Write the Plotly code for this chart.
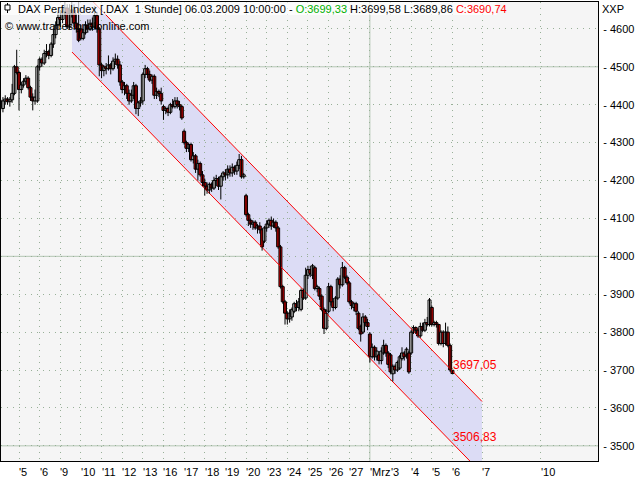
import plotly.graph_objects as go

# ---------------- data ----------------
# trading-day tick labels (x positions are bar indexes)
tick_text = ["5", "6", "9", "10", "11", "12", "13", "16", "17", "18", "19", "20",
             "23", "24", "25", "26", "27", "Mrz", "3", "4", "5", "6", "7", "10"]
tick_bar = [8, 17, 26, 35, 44, 53, 62, 71, 80, 89, 98, 107,
            116, 125, 134, 143, 152, 161, 170, 179, 188, 197, 210, 235.6]
month_break_bar = [161]

# hourly OHLC, 04.02.2009 (partial) ... 06.03.2009 10:00
open_ = [
    4395, 4390, 4410, 4415, 4408, 4413, 4430, 4500,                     # 04.02
    4485, 4440, 4452, 4462, 4470, 4445, 4420, 4410, 4410,               # 05.02
    4500, 4520, 4510, 4535, 4540, 4530, 4560, 4585, 4610,               # 06.02
    4630, 4625, 4645, 4655, 4605, 4640, 4650, 4615, 4600,               # 09.02
    4600, 4575, 4590, 4610, 4600, 4615, 4605, 4635, 4600,               # 10.02
    4505, 4490, 4500, 4495, 4505, 4495, 4515, 4520, 4505,               # 11.02
    4460, 4440, 4450, 4430, 4410, 4425, 4450, 4390, 4405,               # 12.02
    4410, 4480, 4495, 4480, 4465, 4475, 4425, 4435, 4430,               # 13.02
    4395, 4385, 4390, 4380, 4400, 4395, 4410, 4400, 4395,               # 16.02
    4330, 4300, 4285, 4295, 4255, 4265, 4230, 4245, 4215,               # 17.02
    4195, 4185, 4175, 4190, 4180, 4200, 4205, 4185, 4210,               # 18.02
    4220, 4215, 4230, 4220, 4235, 4225, 4240, 4255, 4210,               # 19.02
    4160, 4110, 4095, 4085, 4090, 4075, 4080, 4070, 4040,               # 20.02
    4075, 4085, 4095, 4080, 4090, 4075, 4025, 3920, 3880,               # 23.02
    3850, 3835, 3840, 3855, 3875, 3865, 3860, 3910, 3890,               # 24.02
    3950, 3965, 3950, 3970, 3915, 3915, 3895, 3860, 3810,               # 25.02
    3855, 3920, 3880, 3865, 3890, 3940, 3925, 3970, 3945,               # 26.02
    3930, 3880, 3865, 3875, 3850, 3815, 3800, 3840, 3825,               # 27.02
    3795, 3735, 3760, 3735, 3740, 3725, 3745, 3765, 3745,               # 02.03
    3740, 3690, 3710, 3700, 3705, 3730, 3745, 3740, 3745,               # 03.03
    3745, 3800, 3812, 3805, 3790, 3815, 3805, 3825, 3820,               # 04.03
    3865, 3820, 3825, 3820, 3770, 3800, 3770, 3800, 3765,               # 05.03
    3699.33,                                                            # 06.03
]
high_ = [
    4415, 4420, 4425, 4420, 4420, 4455, 4505, 4545,
    4490, 4460, 4470, 4478, 4475, 4450, 4430, 4440, 4505,
    4525, 4525, 4545, 4560, 4545, 4565, 4600, 4620, 4645,
    4650, 4660, 4690, 4665, 4665, 4685, 4665, 4640, 4690,
    4610, 4600, 4620, 4625, 4625, 4630, 4660, 4645, 4605,
    4510, 4505, 4510, 4530, 4510, 4525, 4535, 4530, 4515,
    4465, 4460, 4455, 4440, 4440, 4460, 4455, 4410, 4420,
    4485, 4505, 4500, 4490, 4480, 4480, 4445, 4440, 4445,
    4400, 4395, 4395, 4405, 4415, 4420, 4420, 4410, 4400,
    4335, 4305, 4300, 4300, 4275, 4270, 4255, 4250, 4225,
    4205, 4195, 4195, 4195, 4210, 4215, 4210, 4215, 4225,
    4230, 4240, 4240, 4245, 4240, 4250, 4270, 4265, 4220,
    4165, 4115, 4100, 4095, 4095, 4085, 4090, 4075, 4080,
    4095, 4100, 4105, 4100, 4095, 4080, 4030, 3925, 3885,
    3855, 3860, 3865, 3880, 3885, 3890, 3915, 3915, 3970,
    3975, 3975, 3980, 3975, 3925, 3920, 3900, 3865, 3860,
    3930, 3925, 3890, 3895, 3945, 3950, 3985, 3975, 3950,
    3935, 3885, 3880, 3880, 3855, 3820, 3850, 3845, 3835,
    3800, 3770, 3765, 3760, 3750, 3760, 3780, 3770, 3750,
    3745, 3715, 3715, 3725, 3740, 3760, 3750, 3760, 3750,
    3805, 3818, 3815, 3810, 3825, 3825, 3835, 3840, 3890,
    3870, 3830, 3830, 3822, 3805, 3805, 3825, 3815, 3770,
    3699.58,
]
low_ = [
    4385, 4380, 4400, 4400, 4395, 4405, 4425, 4480,
    4385, 4430, 4445, 4455, 4440, 4410, 4385, 4400, 4405,
    4490, 4500, 4505, 4525, 4520, 4525, 4550, 4575, 4600,
    4605, 4615, 4635, 4600, 4600, 4630, 4605, 4590, 4565,
    4570, 4570, 4585, 4590, 4595, 4595, 4600, 4590, 4475,
    4470, 4475, 4480, 4490, 4480, 4490, 4505, 4495, 4450,
    4430, 4425, 4415, 4400, 4405, 4415, 4375, 4370, 4395,
    4400, 4470, 4470, 4460, 4455, 4415, 4415, 4420, 4400,
    4360, 4375, 4370, 4375, 4390, 4390, 4390, 4385, 4360,
    4295, 4275, 4275, 4250, 4245, 4220, 4200, 4210, 4185,
    4160, 4165, 4165, 4170, 4175, 4185, 4175, 4150, 4200,
    4200, 4205, 4210, 4210, 4215, 4215, 4230, 4205, 4205,
    4105, 4080, 4075, 4070, 4070, 4060, 4060, 4015, 4035,
    4065, 4075, 4070, 4075, 4065, 4020, 3915, 3875, 3820,
    3820, 3825, 3830, 3850, 3855, 3855, 3855, 3885, 3885,
    3940, 3945, 3940, 3910, 3905, 3885, 3855, 3795, 3805,
    3850, 3870, 3855, 3860, 3885, 3915, 3920, 3940, 3925,
    3875, 3860, 3855, 3845, 3805, 3775, 3795, 3815, 3805,
    3720, 3730, 3725, 3725, 3715, 3715, 3740, 3735, 3705,
    3690, 3670, 3690, 3695, 3700, 3725, 3725, 3730, 3690,
    3740, 3795, 3795, 3785, 3785, 3800, 3800, 3815, 3815,
    3815, 3815, 3812, 3765, 3765, 3760, 3765, 3760, 3695,
    3689.86,
]
close_ = [
    4410, 4410, 4415, 4408, 4413, 4430, 4500, 4485,
    4440, 4452, 4462, 4470, 4445, 4420, 4410, 4420, 4500,
    4520, 4510, 4535, 4540, 4530, 4560, 4585, 4610, 4630,
    4625, 4645, 4655, 4605, 4640, 4650, 4615, 4600, 4570,
    4575, 4590, 4610, 4600, 4615, 4605, 4635, 4600, 4505,
    4490, 4500, 4495, 4505, 4495, 4515, 4520, 4505, 4460,
    4440, 4450, 4430, 4410, 4425, 4450, 4390, 4405, 4410,
    4480, 4495, 4480, 4465, 4475, 4425, 4435, 4430, 4410,
    4385, 4390, 4380, 4400, 4395, 4410, 4400, 4395, 4365,
    4300, 4285, 4295, 4255, 4265, 4230, 4245, 4215, 4195,
    4185, 4175, 4190, 4180, 4200, 4205, 4185, 4210, 4220,
    4215, 4230, 4220, 4235, 4225, 4240, 4255, 4210, 4215,
    4110, 4095, 4085, 4090, 4075, 4080, 4070, 4025, 4075,
    4085, 4095, 4080, 4090, 4075, 4025, 3920, 3880, 3850,
    3835, 3850, 3860, 3875, 3865, 3880, 3910, 3890, 3950,
    3965, 3955, 3975, 3915, 3920, 3895, 3860, 3810, 3850,
    3920, 3880, 3865, 3890, 3940, 3925, 3970, 3945, 3930,
    3880, 3870, 3875, 3855, 3810, 3795, 3840, 3825, 3815,
    3735, 3760, 3735, 3750, 3725, 3750, 3765, 3745, 3715,
    3695, 3710, 3700, 3720, 3735, 3745, 3735, 3755, 3695,
    3800, 3812, 3805, 3790, 3815, 3805, 3825, 3820, 3885,
    3820, 3825, 3820, 3770, 3800, 3770, 3800, 3765, 3700,
    3690.74,
]
bars = list(range(len(close_)))

# regression channel (bar index, price)
channel_bar = [31.1, 209.9]
channel_upper = [4729.0, 3617.0]
channel_lower = [4539.0, 3427.0]
label_bar = 197
label_values = [3697.05, 3506.83]
label_texts = ["3697,05", "3506,83"]

y_ticks = [3500, 3600, 3700, 3800, 3900, 4000, 4100, 4200, 4300, 4400, 4500, 4600]
y_solid = [3500, 4000, 4500]

# ---------------- figure ----------------
FONT = "Liberation Sans, Arial, sans-serif"
DOT = "#98b098"
SOLID = "#b4c6b4"

fig = go.Figure()

fig.add_trace(go.Scatter(x=channel_bar, y=channel_upper, mode="lines",
                         line=dict(color="#ff0000", width=1), hoverinfo="skip"))
fig.add_trace(go.Scatter(x=channel_bar, y=channel_lower, mode="lines",
                         line=dict(color="#ff0000", width=1), hoverinfo="skip"))

# candle wicks (high-low), drawn behind the bodies
wick_x, wick_y = [], []
for b, h, l in zip(bars, high_, low_):
    wick_x += [b, b, None]
    wick_y += [l, h, None]
fig.add_trace(go.Scatter(x=wick_x, y=wick_y, mode="lines",
                         line=dict(color="black", width=1), hoverinfo="skip"))

# candle bodies (open-close) as floating bars
body_base = [min(o, c) for o, c in zip(open_, close_)]
body_len = [abs(c - o) for o, c in zip(open_, close_)]
body_col = ["white" if c >= o else "#ff0000" for o, c in zip(open_, close_)]
fig.add_trace(go.Bar(x=bars, y=body_len, base=body_base, width=1.3,
                     marker=dict(color=body_col, line=dict(color="black", width=1)),
                     hoverinfo="skip"))

shapes = []
# channel fill (below gridlines)
path = (f"M {channel_bar[0]},{channel_upper[0]} L {channel_bar[1]},{channel_upper[1]} "
        f"L {channel_bar[1]},{channel_lower[1]} L {channel_bar[0]},{channel_lower[0]} Z")
shapes.append(dict(type="path", path=path, xref="x", yref="y", layer="below",
                   fillcolor="#dcdcf5", line=dict(width=0)))
for v in y_solid:
    shapes.append(dict(type="line", xref="paper", x0=0, x1=1, yref="y", y0=v, y1=v,
                       layer="between", line=dict(color=SOLID, width=1)))
for b in month_break_bar:
    shapes.append(dict(type="line", xref="x", x0=b, x1=b, yref="paper", y0=0, y1=1,
                       layer="between", line=dict(color=SOLID, width=1)))
# header box
shapes.append(dict(type="rect", xref="paper", yref="paper", x0=0, x1=0.83,
                   y0=0.9717, y1=1, layer="above", fillcolor="rgba(255,255,255,0.7)",
                   line=dict(width=0)))
# small candle icon in header
shapes.append(dict(type="line", xref="paper", yref="paper", x0=0.0109, x1=0.0109,
                   y0=0.976, y1=0.9978, layer="above", line=dict(color="black", width=1)))
shapes.append(dict(type="rect", xref="paper", yref="paper", x0=0.0067, x1=0.0151,
                   y0=0.9826, y1=0.9935, layer="above", fillcolor="white",
                   line=dict(color="black", width=1)))

ann = []
for b, t in zip(tick_bar, tick_text):
    ann.append(dict(x=b, xref="x", y=0, yref="paper", text="'" + t, showarrow=False,
                    xanchor="left", yanchor="top", xshift=-2, yshift=-3,
                    font=dict(family=FONT, size=11, color="black")))
for v, t in zip(label_values, label_texts):
    ann.append(dict(x=label_bar, xref="x", y=v, yref="y", text=t, showarrow=False,
                    xanchor="left", yanchor="bottom", xshift=-1, yshift=-3,
                    font=dict(family=FONT, size=12, color="#ff0000")))
title = ("DAX Perf. Index [.DAX  1 Stunde] 06.03.2009 10:00:00 - "
         "<span style='color:#00b000'>O:3699,33</span> H:3699,58 L:3689,86 "
         "<span style='color:#ff0000'>C:3690,74</span>")
ann.append(dict(x=0, xref="paper", y=1, yref="paper", text=title, showarrow=False,
                xanchor="left", yanchor="top", xshift=15, yshift=1,
                font=dict(family=FONT, size=11, color="black")))
ann.append(dict(x=0, xref="paper", y=1, yref="paper", text="© www.tradesignalonline.com",
                showarrow=False, xanchor="left", yanchor="top", xshift=2, yshift=-16,
                font=dict(family=FONT, size=11, color="black")))
ann.append(dict(x=1, xref="paper", y=1, yref="paper", text="XXP", showarrow=False,
                xanchor="left", yanchor="top", xshift=2, yshift=1,
                font=dict(family=FONT, size=11, color="black")))

fig.update_layout(
    width=640, height=480,
    margin=dict(l=1, r=42, t=2, b=19),
    paper_bgcolor="white", plot_bgcolor="#f5f5f5",
    showlegend=False, hovermode=False, barmode="overlay",
    shapes=shapes, annotations=ann,
    font=dict(family=FONT, size=11, color="black"),
)
fig.update_xaxes(range=[0.15, 260.47], tickvals=tick_bar, showticklabels=False,
                 ticks="", showgrid=True, gridcolor=DOT, griddash="1px,5px", gridwidth=1,
                 showline=True, mirror=True, linecolor="black", linewidth=1,
                 zeroline=False, fixedrange=True)
fig.update_yaxes(range=[3460, 4671], side="right", tickvals=y_ticks,
                 ticktext=["- " + str(v) for v in y_ticks], ticks="",
                 tickfont=dict(family=FONT, size=11), ticklabelstandoff=2,
                 showgrid=True, gridcolor=DOT, griddash="1px,5px", gridwidth=1,
                 showline=True, mirror=True, linecolor="black", linewidth=1,
                 zeroline=False, fixedrange=True)

fig.write_html("out.html", config={"displayModeBar": False},
               post_script="document.body.style.margin='0px';document.body.style.overflow='hidden';")
